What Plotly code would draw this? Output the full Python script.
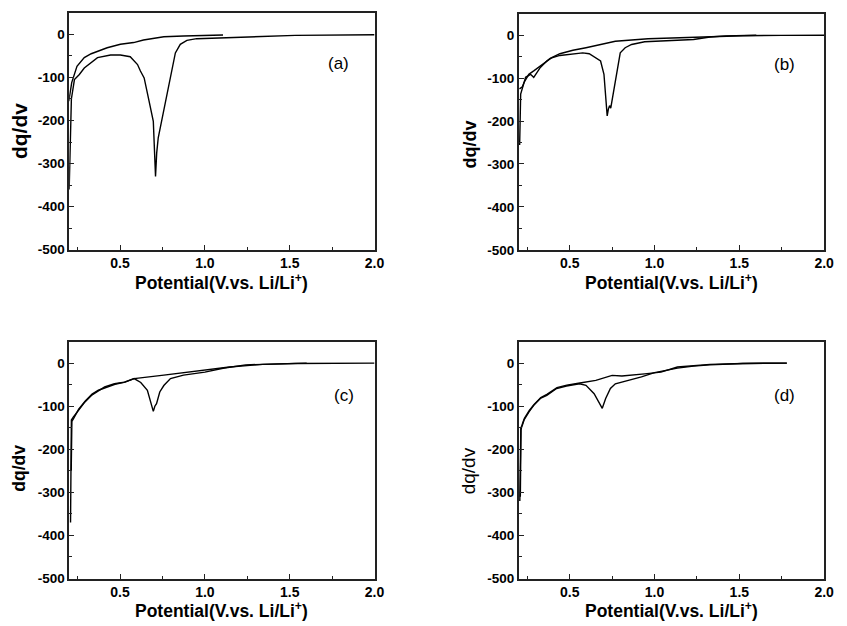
import plotly.graph_objects as go

# ---------------- data ----------------
a_lower_x = [0.200, 0.205, 0.213, 0.231, 0.260, 0.289, 0.328, 0.367, 0.444, 0.502, 0.560, 0.603, 0.620, 0.642,
             0.671, 0.696, 0.709, 0.716, 0.725, 0.758, 0.797, 0.826, 0.855, 0.894, 0.952, 1.145, 1.533, 2.0]
a_lower_y = [-360, -260, -150, -105, -93, -78, -66, -54, -48, -48, -52, -70, -85, -101,
             -155, -202, -330, -275, -240, -178, -101, -43, -23, -14, -10, -7, -2.3, -0.8]
a_upper_x = [0.198, 0.215, 0.246, 0.289, 0.330, 0.367, 0.424, 0.502, 0.580, 0.638, 0.700, 0.758, 0.874, 0.990, 1.107]
a_upper_y = [-155, -112, -74, -54, -45, -39, -31, -23, -19, -13, -9, -5.4, -3.9, -2, -1.5]

b_lower_x = [0.205, 0.208, 0.211, 0.240, 0.269, 0.288, 0.307, 0.327, 0.365, 0.385, 0.442, 0.519, 0.577, 0.615,
             0.654, 0.682, 0.702, 0.712, 0.721, 0.728, 0.735, 0.742, 0.798, 0.827, 0.865, 0.942, 1.135, 1.23,
             1.327, 1.42, 1.6]
b_lower_y = [-256, -180, -137, -98, -91, -98, -87, -75, -60, -54, -47, -43, -41, -43,
             -52, -60, -91, -140, -188, -172, -164, -170, -41, -29, -21.5, -15, -11.5, -10,
             -4, -1.5, 0]
b_upper_x = [0.204, 0.221, 0.231, 0.259, 0.288, 0.327, 0.365, 0.394, 0.442, 0.519, 0.596, 0.673, 0.769, 0.962,
             1.135, 1.327, 1.52, 1.75, 2.0]
b_upper_y = [-125, -120, -110, -91, -83, -72, -60, -52, -43, -35, -29, -23, -14, -8,
             -6, -4, -1, -0.3, 0]

c_lower_x = [0.208, 0.210, 0.213, 0.225, 0.254, 0.293, 0.331, 0.370, 0.409, 0.467, 0.525, 0.583, 0.622, 0.661,
             0.680, 0.696, 0.705, 0.715, 0.734, 0.758, 0.797, 0.874, 1.0, 1.107, 1.24, 1.436, 1.6]
c_lower_y = [-370, -250, -132, -125, -109, -90, -75, -65, -55, -48, -44, -36, -45, -63,
             -90, -112, -100, -94, -67, -52, -36, -28, -21, -12, -4, -1.5, 0]
c_upper_x = [0.212, 0.216, 0.228, 0.256, 0.295, 0.335, 0.372, 0.412, 0.470, 0.530, 0.583, 0.758, 1.0, 1.145,
             1.34, 1.533, 2.0]
c_upper_y = [-250, -135, -127, -107, -88, -72, -63, -57, -49, -44, -36, -28, -17, -9,
             -3, -0.8, 0]

d_lower_x = [0.206, 0.208, 0.212, 0.221, 0.231, 0.260, 0.288, 0.327, 0.365, 0.423, 0.481, 0.558, 0.596, 0.644,
             0.673, 0.692, 0.712, 0.740, 0.769, 0.827, 0.923, 1.0, 1.135, 1.23, 1.327, 1.52, 1.78]
d_lower_y = [-320, -230, -150, -144, -132, -113, -98, -82, -75, -59, -53, -48, -51.5, -71,
             -90, -105, -82, -59, -48, -42, -32, -22, -11.5, -7, -4, -0.8, 0]
d_upper_x = [0.209, 0.213, 0.222, 0.233, 0.262, 0.290, 0.330, 0.368, 0.425, 0.483, 0.560, 0.654, 0.750, 0.808,
             0.942, 1.038, 1.135, 1.327, 1.52, 1.78]
d_upper_y = [-310, -155, -140, -128, -110, -96, -80, -72, -57, -51, -46, -40, -28.5, -30,
             -25, -21, -9, -3, -0.8, 0]

panel_labels = ["(a)", "(b)", "(c)", "(d)"]
x_title = "Potential(V.vs. Li/Li<sup>+</sup>)"
y_title = "dq/dv"
x_ticks = [0.5, 1.0, 1.5, 2.0]
x_tick_labels = ["0.5", "1.0", "1.5", "2.0"]
y_ticks = [-500, -400, -300, -200, -100, 0]
y_tick_labels = ["-500", "-400", "-300", "-200", "-100", "0"]

# ---------------- figure ----------------
W, H = 847, 626
FONT = "Liberation Sans, Arial, sans-serif"
LINE = "#222222"

# plot boxes in pixels: (left, right, top, bottom)
boxes = [(70, 379, 13, 253), (525, 834, 14, 253), (70, 379, 346, 586), (525, 834, 346, 586)]
series = [(a_lower_x, a_lower_y, a_upper_x, a_upper_y),
          (b_lower_x, b_lower_y, b_upper_x, b_upper_y),
          (c_lower_x, c_lower_y, c_upper_x, c_upper_y),
          (d_lower_x, d_lower_y, d_upper_x, d_upper_y)]

fig = go.Figure()
layout = dict(width=W, height=H, margin=dict(l=0, r=0, t=0, b=0),
              paper_bgcolor="white", plot_bgcolor="white", showlegend=False,
              font=dict(family=FONT, color="black"))
annotations = []

for i, (box, s) in enumerate(zip(boxes, series)):
    n = "" if i == 0 else str(i + 1)
    xa, ya = "x" + n, "y" + n
    for xs, ys in [(s[0], s[1]), (s[2], s[3])]:
        fig.add_trace(go.Scatter(x=xs, y=ys, mode="lines", xaxis=xa, yaxis=ya,
                                 line=dict(color="black", width=1.4), hoverinfo="skip"))
    l, r, t, b = box
    layout["xaxis" + n] = dict(
        domain=[l / W, r / W], anchor=ya, range=[0.2, 2.0],
        tickvals=x_ticks, ticktext=[f"<b>{s}</b>" for s in x_tick_labels],
        ticks="inside", ticklen=5, tickwidth=1.2, tickcolor=LINE,
        minor=dict(tickvals=[0.25, 0.75, 1.25, 1.75], ticks="inside", ticklen=3, tickwidth=1, tickcolor=LINE),
        showline=True, linecolor=LINE, linewidth=1.5, mirror=True,
        showgrid=False, zeroline=False,
        tickfont=dict(family=FONT, size=14, color="black"))
    layout["yaxis" + n] = dict(
        domain=[1 - b / H, 1 - t / H], anchor=xa, range=[-500, 50],
        tickvals=y_ticks, ticktext=[f"<b>{s}</b>" for s in y_tick_labels],
        ticks="inside", ticklen=5, tickwidth=1.2, tickcolor=LINE,
        minor=dict(tickvals=[-450, -350, -250, -150, -50], ticks="inside", ticklen=3, tickwidth=1, tickcolor=LINE),
        showline=True, linecolor=LINE, linewidth=1.5, mirror=True,
        showgrid=False, zeroline=False,
        tickfont=dict(family=FONT, size=13.5, color="black"))

# panel labels
label_pos = [(0.922, 0.835), (0.912, 0.835), (0.938, 0.82), (0.912, 0.82)]
for i, (lab, (px, py)) in enumerate(zip(panel_labels, label_pos)):
    n = "" if i == 0 else str(i + 1)
    annotations.append(dict(text=lab, xref=f"x{n} domain", yref=f"y{n} domain", x=px, y=py,
                            showarrow=False, font=dict(family=FONT, size=17, color="black")))

# axis titles
xt_y = [286, 286, 618, 618]
yt = [(20, 133, 21, True), (476, 146, 18, True), (19, 474, 17.5, True), (475, 477, 19, False)]
for i, box in enumerate(boxes):
    l, r, t, b = box
    annotations.append(dict(text=f"<b>{x_title}</b>", xref="paper", yref="paper",
                            x=(l + r) / 2 / W, y=1 - xt_y[i] / H, showarrow=False,
                            xanchor="center", yanchor="middle",
                            font=dict(family=FONT, size=17.5, color="black")))
    cx, cy, fs, bold = yt[i]
    txt = f"<b>{y_title}</b>" if bold else y_title
    annotations.append(dict(text=txt, xref="paper", yref="paper", x=cx / W, y=1 - cy / H,
                            showarrow=False, textangle=-90, xanchor="center", yanchor="middle",
                            font=dict(family=FONT, size=fs, color="black")))

layout["annotations"] = annotations
fig.update_layout(**layout)
fig.write_html("out.html")
